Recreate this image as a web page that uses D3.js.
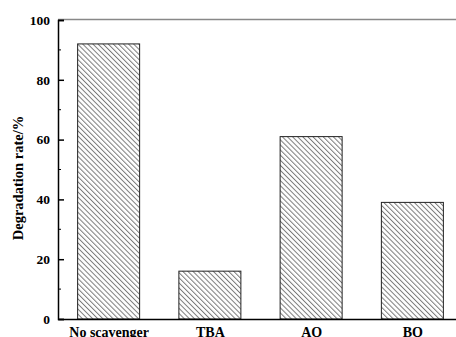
<!DOCTYPE html>
<html>
<head>
<meta charset="utf-8">
<script src="https://cdn.jsdelivr.net/npm/d3@7"></script>
<style>
  body { margin: 0; background: #fff; }
  svg text { font-family: "Liberation Serif", "Times New Roman", serif; font-weight: bold; }
</style>
</head>
<body>
<svg id="chart" width="456" height="337"></svg>
<script>
var categories = ["No scavenger", "TBA", "AO", "BO"];
var rates = [92, 16, 61, 39];
var yTicks = [0, 20, 40, 60, 80, 100];
var yMinor = [10, 30, 50, 70, 90];

var svg = d3.select("#chart"),
    margin = {top: 20, left: 58},
    plotW = 405,
    plotH = 299;

var x = d3.scaleLinear().domain([0.5, 4.5]).range([0, plotW]),
    y = d3.scaleLinear().domain([0, 100]).range([plotH, 0]);

// back-slash hatching like the original
var defs = svg.append("defs");
var pat = defs.append("pattern")
    .attr("id", "hatch")
    .attr("patternUnits", "userSpaceOnUse")
    .attr("width", 3.6)
    .attr("height", 3.6)
    .attr("patternTransform", "rotate(-45)");
pat.append("line")
    .attr("x1", 0.5).attr("y1", 0)
    .attr("x2", 0.5).attr("y2", 3.6)
    .attr("stroke", "#7a7a7a")
    .attr("stroke-width", 1);

var g = svg.append("g")
    .attr("transform", "translate(" + margin.left + "," + margin.top + ")");

// top frame line
g.append("line")
    .attr("x1", 0).attr("x2", plotW)
    .attr("y1", -0.5).attr("y2", -0.5)
    .attr("stroke", "#888")
    .attr("stroke-width", 1.5);

var barW = 62;
g.selectAll(".bar")
    .data(rates)
    .enter().append("rect")
    .attr("class", "bar")
    .attr("x", function(d, i) { return x(i + 1) - barW / 2; })
    .attr("y", function(d) { return y(d); })
    .attr("width", barW)
    .attr("height", function(d) { return y(0) - y(d); })
    .attr("fill", "url(#hatch)")
    .attr("stroke", "#222")
    .attr("stroke-width", 1);

// y axis
var yAxis = g.append("g")
    .call(d3.axisLeft(y).tickValues(yTicks).tickSize(-6).tickPadding(8).tickFormat(d3.format("d")));
yAxis.select(".domain").attr("stroke", "#000").attr("stroke-width", 1.5);
yAxis.selectAll(".tick line").attr("stroke", "#000").attr("stroke-width", 1.5);
yAxis.selectAll(".tick text").attr("font-size", 13.5).attr("fill", "#000")
    .attr("font-family", "Liberation Serif").attr("font-weight", "bold");

g.selectAll(".minor")
    .data(yMinor)
    .enter().append("line")
    .attr("class", "minor")
    .attr("x1", 0).attr("x2", 3)
    .attr("y1", function(d) { return y(d); })
    .attr("y2", function(d) { return y(d); })
    .attr("stroke", "#000")
    .attr("stroke-width", 1);

// x axis
var xAxis = g.append("g")
    .attr("transform", "translate(0," + plotH + ")")
    .call(d3.axisBottom(x).tickValues([1, 2, 3, 4]).tickSize(0).tickPadding(8)
        .tickFormat(function(d) { return categories[d - 1]; }));
xAxis.select(".domain").attr("stroke", "#000").attr("stroke-width", 1.5);
xAxis.selectAll(".tick text").attr("font-size", 14).attr("fill", "#000")
    .attr("font-family", "Liberation Serif").attr("font-weight", "bold");

svg.append("text")
    .attr("transform", "translate(23,178) rotate(-90)")
    .attr("text-anchor", "middle")
    .attr("font-size", 14.5)
    .text("Degradation rate/%");
</script>
</body>
</html>
